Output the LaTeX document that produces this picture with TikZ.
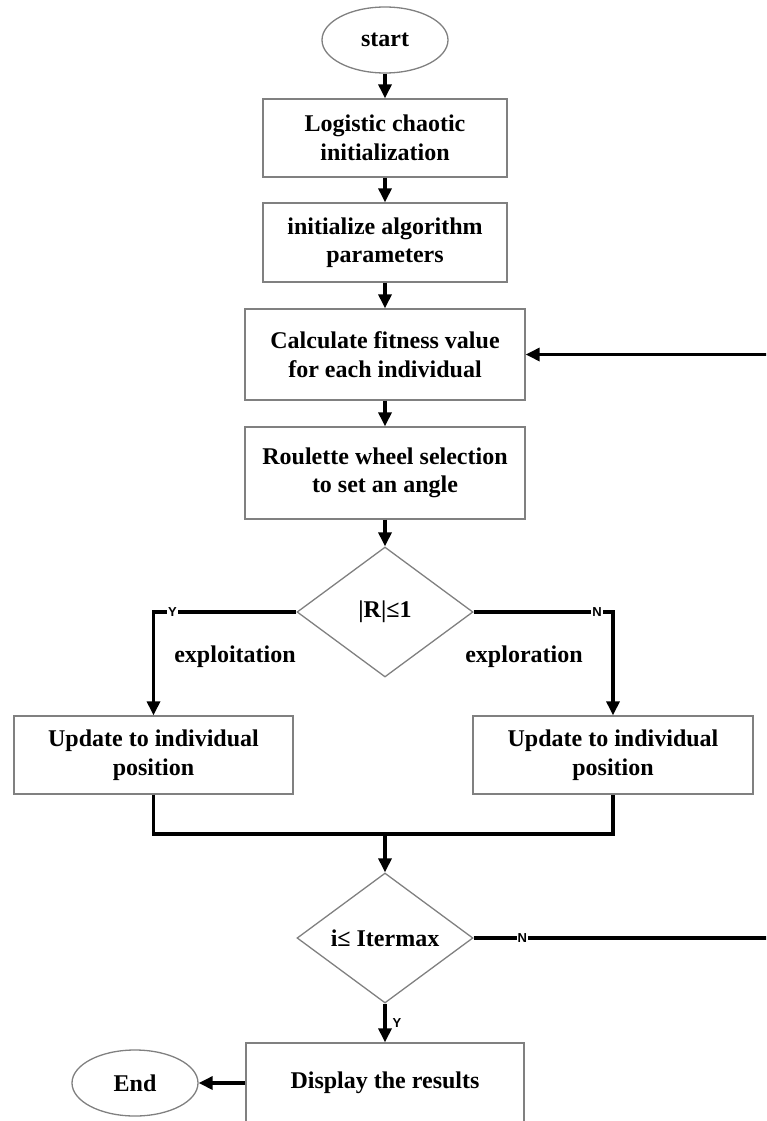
\documentclass[tikz,border=0pt]{standalone}
\usepackage{fontspec}
\setmainfont{Liberation Serif}
\newfontfamily\labfont{Liberation Sans}
\usetikzlibrary{shapes.geometric,arrows.meta}

\begin{document}
\begin{tikzpicture}[x=1pt,y=-1pt,
  txt/.style={font=\fontsize{24}{28.5}\selectfont\bfseries, align=center, inner sep=0pt},
  stepbox/.style={txt, draw=black!50, line width=1.3pt, rectangle},
  oval/.style={txt, draw=black!50, line width=1.3pt, ellipse, minimum width=126, minimum height=66},
  decide/.style={txt, draw=black!50, line width=1.3pt, diamond, minimum width=176, minimum height=130},
  flow/.style={line width=3.2pt, draw=black},
  conn/.style={flow, -{Triangle[length=14pt,width=13pt]}},
  yn/.style={font=\labfont\bfseries\fontsize{13}{13}\selectfont, inner sep=1pt, fill=white},
  tag/.style={txt}
]
\useasboundingbox (0,0) rectangle (766,1121);
\clip (0,0) rectangle (766,1121);

% process column
\node[oval] (start) at (385,40) {start};
\node[stepbox, minimum width=244, minimum height=78] (init) at (385,138) {Logistic chaotic\\initialization};
\node[stepbox, minimum width=244, minimum height=79] (param) at (385,242.5) {initialize algorithm\\parameters};
\node[stepbox, minimum width=280, minimum height=91] (fit) at (385,354.5) {Calculate fitness value\\for each individual};
\node[stepbox, minimum width=280, minimum height=92] (wheel) at (385,473) {Roulette wheel selection\\to set an angle};
\node[decide] (chk) at (385,612) {|R|≤1};
\node[stepbox, minimum width=279, minimum height=78] (upL) at (153.5,755) {Update to individual\\position};
\node[stepbox, minimum width=280, minimum height=78] (upR) at (613,755) {Update to individual\\position};
\node[decide] (iter) at (385,938) {i≤ Itermax};
\node[stepbox, minimum width=278, minimum height=80] (disp) at (385,1083) {Display the results};
\node[oval] (end) at (135,1083) {End};

% branch annotations
\node[tag] (explt) at (235,657) {exploitation};
\node[tag] (explr) at (524,657) {exploration};

% merge point and loop-back corners
\coordinate (merge) at (385,834);
\coordinate (backB) at (778,938);
\coordinate (backT) at (fit.east -| backB);

% connectors
\draw[conn] (start) -- (init);
\draw[conn] (init) -- (param);
\draw[conn] (param) -- (fit);
\draw[conn] (fit) -- (wheel);
\draw[conn] (wheel) -- (chk);
\draw[conn] (chk.west) -| node[yn, pos=0.434] {Y} (upL.north);
\draw[conn] (chk.east) -| node[yn, pos=0.443] {N} (upR.north);
\draw[flow] (upL.south) |- (merge) -| (upR.south);
\draw[conn] (merge) -- (iter.north);
\draw[conn] (iter.south) -- node[yn, right=5pt, fill=none] {Y} (disp.north);
\draw[conn] (iter.east) -- node[yn, pos=0.16] {N} (backB) -- (backT) -- (fit.east);
\draw[conn] (disp.west) -- (end.east);
\end{tikzpicture}
\end{document}
